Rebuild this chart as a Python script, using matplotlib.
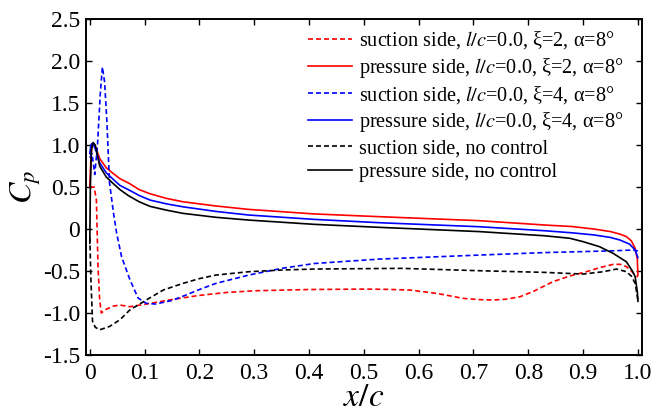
import matplotlib
matplotlib.use("Agg")
import matplotlib.pyplot as plt

plt.rcParams["font.family"] = ["Liberation Serif", "DejaVu Serif"]
plt.rcParams["mathtext.fontset"] = "stix"

# pressure coefficient distributions along the chord
x_ss_xi2 = [0, 0.008, 0.012, 0.015, 0.018, 0.021, 0.027, 0.043, 0.055, 0.073, 0.103, 0.152, 0.2,
            0.25, 0.3, 0.4, 0.5, 0.541, 0.584, 0.633, 0.681, 0.71, 0.736, 0.76, 0.785, 0.81, 0.845,
            0.875, 0.906, 0.93, 0.955, 0.968, 0.979, 0.988, 0.995, 1.0]
cp_ss_xi2 = [0.5, 0.5, 0.345, -0.45, -0.845, -1.0, -0.964, -0.917, -0.905, -0.925, -0.893, -0.837,
             -0.79, -0.755, -0.735, -0.72, -0.715, -0.718, -0.726, -0.766, -0.825, -0.84, -0.845,
             -0.835, -0.806, -0.74, -0.627, -0.56, -0.508, -0.46, -0.42, -0.42, -0.448, -0.5,
             -0.548, -0.57]

x_ps_xi2 = [0, 0.002, 0.004, 0.007, 0.012, 0.018, 0.03, 0.043, 0.055, 0.073, 0.09, 0.11, 0.14, 0.17,
            0.23, 0.29, 0.41, 0.53, 0.71, 0.83, 0.88, 0.92, 0.95, 0.967, 0.979, 0.988, 0.995,
            0.999, 1.0]
cp_ps_xi2 = [0.5, 0.85, 1.0, 1.02, 0.95, 0.84, 0.73, 0.66, 0.6, 0.54, 0.47, 0.42, 0.365, 0.325,
             0.275, 0.234, 0.18, 0.147, 0.1, 0.048, 0.03, 0.0, -0.03, -0.06, -0.09, -0.14, -0.23,
             -0.36, -0.55]

x_ss_xi4 = [0, 0.004, 0.009, 0.014, 0.019, 0.023, 0.027, 0.031, 0.036, 0.043, 0.049, 0.058, 0.073,
            0.088, 0.103, 0.12, 0.15, 0.17, 0.2, 0.23, 0.29, 0.35, 0.41, 0.53, 0.71, 0.83, 0.95,
            0.99, 1.0]
cp_ss_xi4 = [0.85, 0.9, 0.65, 1.0, 1.6, 1.93, 1.75, 1.3, 0.55, 0.2, -0.05, -0.33, -0.6, -0.82,
             -0.885, -0.893, -0.85, -0.8, -0.72, -0.647, -0.548, -0.468, -0.41, -0.357, -0.31,
             -0.28, -0.26, -0.25, -0.26]

x_ps_xi4 = [0, 0.002, 0.004, 0.007, 0.012, 0.018, 0.03, 0.043, 0.055, 0.073, 0.09, 0.11, 0.14, 0.17,
            0.23, 0.29, 0.41, 0.53, 0.71, 0.83, 0.88, 0.92, 0.95, 0.967, 0.985, 0.995, 1.0]
cp_ps_xi4 = [0.9, 1.0, 1.02, 1.0, 0.92, 0.79, 0.67, 0.59, 0.52, 0.46, 0.4, 0.345, 0.3, 0.265,
             0.21, 0.167, 0.115, 0.075, 0.028, -0.02, -0.045, -0.07, -0.1, -0.13, -0.18, -0.25,
             -0.34]

x_ss_base = [0, 0.002, 0.005, 0.01, 0.018, 0.036, 0.055, 0.073, 0.103, 0.134, 0.17, 0.2, 0.23,
             0.29, 0.35, 0.41, 0.57, 0.71, 0.83, 0.9, 0.937, 0.961, 0.979, 0.988, 0.995, 1.0]
cp_ss_base = [-0.1, -0.6, -1.1, -1.17, -1.2, -1.16, -1.08, -0.964, -0.845, -0.726, -0.647, -0.59,
              -0.548, -0.508, -0.488, -0.476, -0.468, -0.496, -0.516, -0.536, -0.508, -0.476,
              -0.508, -0.56, -0.647, -0.845]

x_ps_base = [0, 0.001, 0.003, 0.006, 0.01, 0.018, 0.03, 0.043, 0.055, 0.07, 0.09, 0.11, 0.14, 0.17,
             0.23, 0.29, 0.41, 0.53, 0.71, 0.83, 0.876, 0.9, 0.93, 0.955, 0.979, 0.99, 0.995,
             0.999, 1.0]
cp_ps_base = [-0.17, 0.5, 0.95, 1.03, 1.0, 0.75, 0.62, 0.54, 0.47, 0.4, 0.325, 0.27, 0.225, 0.187,
              0.14, 0.107, 0.056, 0.02, -0.03, -0.08, -0.11, -0.15, -0.21, -0.29, -0.39, -0.5,
              -0.567, -0.75, -0.86]

labels = [
    r"suction side, $\mathit{l/c}$=0.0, ξ=2, α=8°",
    r"pressure side, $\mathit{l/c}$=0.0, ξ=2, α=8°",
    r"suction side, $\mathit{l/c}$=0.0, ξ=4, α=8°",
    r"pressure side, $\mathit{l/c}$=0.0, ξ=4, α=8°",
    "suction side, no control",
    "pressure side, no control",
]

x_ticks = [0, 0.1, 0.2, 0.3, 0.4, 0.5, 0.6, 0.7, 0.8, 0.9, 1.0]
x_tick_labels = ["0", "0.1", "0.2", "0.3", "0.4", "0.5", "0.6", "0.7", "0.8", "0.9", "1.0"]
y_ticks = [-1.5, -1.0, -0.5, 0, 0.5, 1.0, 1.5, 2.0, 2.5]
y_tick_labels = ["-1.5", "-1.0", "-0.5", "0", "0.5", "1.0", "1.5", "2.0", "2.5"]

fig = plt.figure(figsize=(6.55, 4.16), dpi=100)
ax = fig.add_axes([0.131, 0.1466, 0.849, 0.8074])

lw = 1.2
dash = (3, 1.8)
ax.plot(x_ss_xi2, cp_ss_xi2, color="#ff0000", lw=lw, dashes=dash, label=labels[0])
ax.plot(x_ps_xi2, cp_ps_xi2, color="#ff0000", lw=lw, label=labels[1])
ax.plot(x_ss_xi4, cp_ss_xi4, color="#0000ff", lw=lw, dashes=dash, label=labels[2])
ax.plot(x_ps_xi4, cp_ps_xi4, color="#0000ff", lw=lw, label=labels[3])
ax.plot(x_ss_base, cp_ss_base, color="black", lw=lw, dashes=dash, label=labels[4])
ax.plot(x_ps_base, cp_ps_base, color="black", lw=lw, label=labels[5])

ax.set_xlim(-0.0073, 1.0073)
ax.set_ylim(-1.5, 2.5)
ax.set_xticks(x_ticks)
ax.set_xticklabels(x_tick_labels)
ax.set_yticks(y_ticks)
ax.set_yticklabels(y_tick_labels)

ax.tick_params(direction="in", length=4.5, width=1.0, top=True, right=True,
               labelsize=17, pad=4)
ax.tick_params(axis="x", pad=6)
for s in ax.spines.values():
    s.set_linewidth(1.4)

ax.set_xlabel(r"$x/c$", fontsize=24, labelpad=-1)
ax.set_ylabel(r"$C_p$", fontsize=23, labelpad=0)

leg = ax.legend(loc="upper right", frameon=False, fontsize=14.6, handlelength=2.2,
                handletextpad=0.35, labelspacing=0.22, borderaxespad=0.25,
                bbox_to_anchor=(0.991, 1.009))

fig.savefig("out.png", dpi=100)
